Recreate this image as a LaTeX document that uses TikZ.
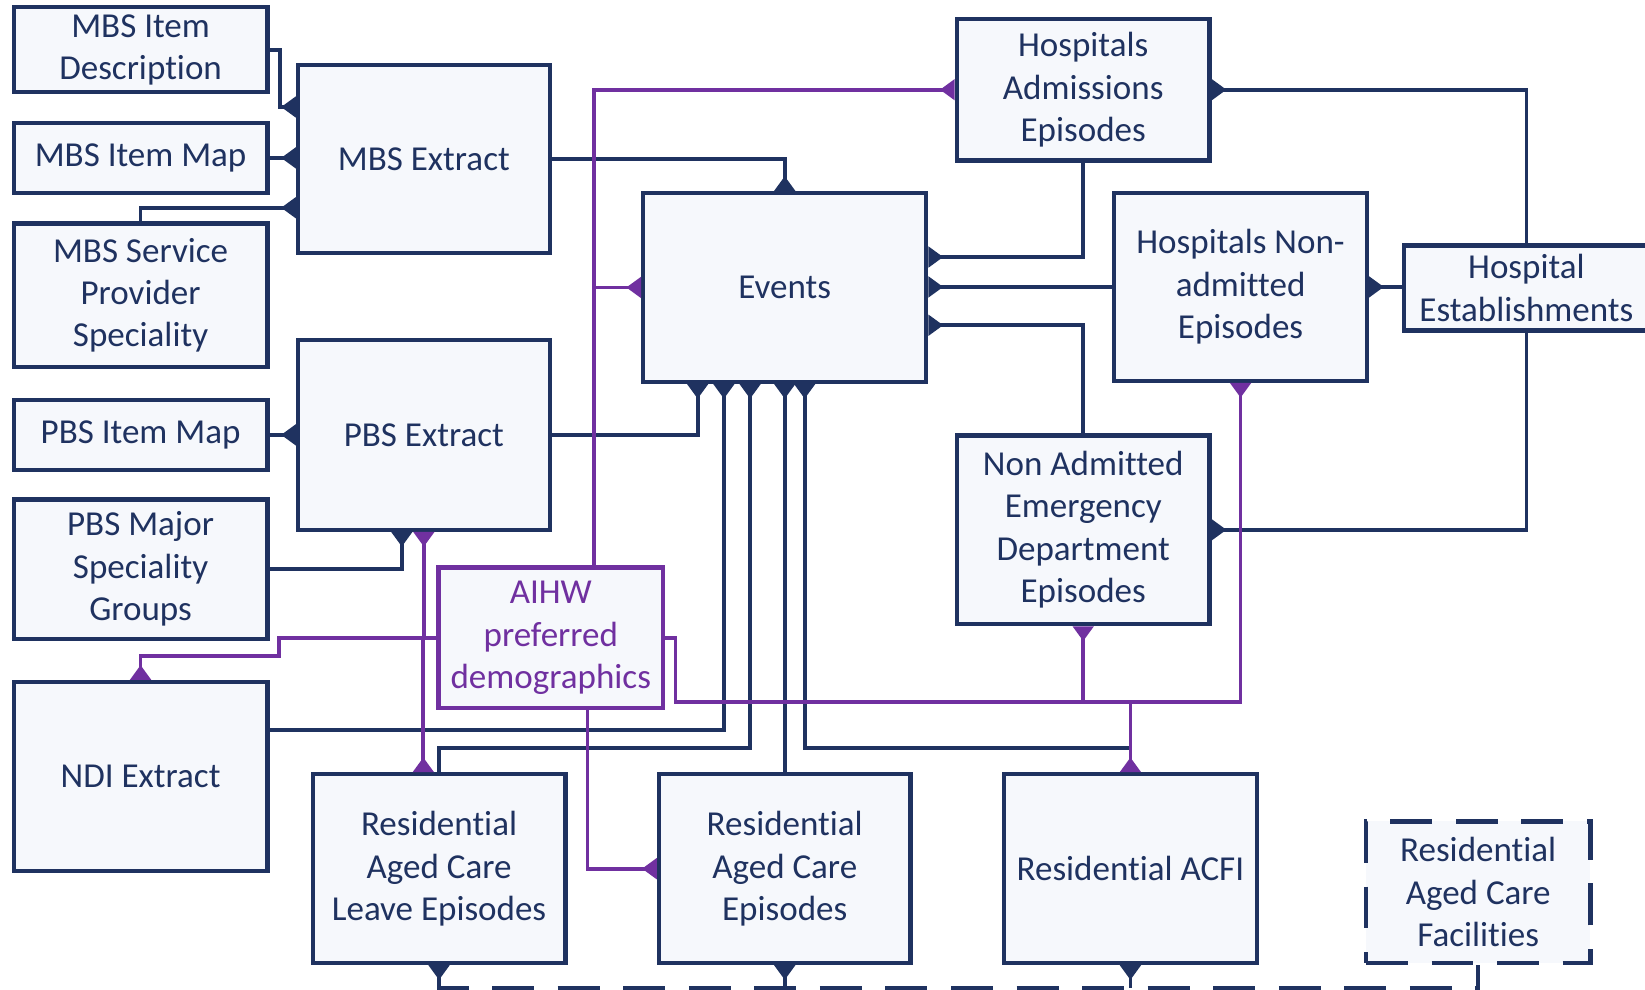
\documentclass[tikz,border=0pt]{standalone}
\usepackage{fontspec}
\setmainfont{Carlito}[Ligatures=NoCommon]
\usetikzlibrary{arrows.meta,calc}
\definecolor{navy}{RGB}{31,50,96}
\definecolor{aihwpurple}{RGB}{112,48,160}
\definecolor{boxfill}{RGB}{246,248,252}
\tikzset{
  crow/.tip={Triangle[reversed,width=11pt,length=8pt]},
  ent/.style={draw=navy,line width=2.3pt,fill=boxfill,text=navy,align=center,
    inner sep=0pt,font=\fontsize{19}{23}\selectfont},
  link/.style={draw=navy,line width=2pt},
  plink/.style={draw=aihwpurple,line width=2pt},
  longdash/.style={dash pattern=on 0.8cm off 0.45cm},
}

\begin{document}
\begin{tikzpicture}[x=0.02cm,y=-0.02cm]
  \path[fill=white,use as bounding box] (0,0) rectangle (1568,943);

  %% left column
  \node[ent,minimum width=4.84cm,minimum height=1.62cm] (desc) at (134,47.5) {MBS Item\\Description};
  \node[ent,minimum width=4.84cm,minimum height=1.34cm] (map) at (134,150.5) {MBS Item Map};
  \node[ent,minimum width=4.84cm,minimum height=2.74cm] (serv) at (134,281.5) {MBS Service\\Provider\\Speciality};
  \node[ent,minimum width=4.84cm,minimum height=1.34cm] (pmap) at (134,414.5) {PBS Item Map};
  \node[ent,minimum width=4.84cm,minimum height=2.66cm] (pmaj) at (134,542.5) {PBS Major\\Speciality\\Groups};
  \node[ent,minimum width=4.84cm,minimum height=3.6cm] (ndi) at (134,740) {NDI Extract};

  %% extracts
  \node[ent,minimum width=4.8cm,minimum height=3.58cm] (mbs) at (404,151.5) {MBS Extract};
  \node[ent,minimum width=4.8cm,minimum height=3.62cm] (pbs) at (404,414.5) {PBS Extract};
  \node[ent,draw=aihwpurple,text=aihwpurple,minimum width=4.28cm,minimum height=2.68cm] (aihw) at (525,608) {AIHW\\preferred\\demographics};

  %% events and hospitals
  \node[ent,minimum width=5.4cm,minimum height=3.6cm] (events) at (748,274) {Events};
  \node[ent,minimum width=4.82cm,minimum height=2.7cm] (hadm) at (1032.5,85.5) {Hospitals\\Admissions\\Episodes};
  \node[ent,minimum width=4.82cm,minimum height=3.58cm] (hnon) at (1182.5,273.5) {Hospitals Non-\\admitted\\Episodes};
  \node[ent,minimum width=4.68cm,minimum height=1.62cm] (hest) at (1455,274.5) {Hospital\\Establishments};
  \node[ent,minimum width=4.82cm,minimum height=3.6cm] (ned) at (1032.5,505) {Non Admitted\\Emergency\\Department\\Episodes};

  %% residential
  \node[ent,minimum width=4.82cm,minimum height=3.6cm] (rleave) at (418.5,828) {Residential\\Aged Care\\Leave Episodes};
  \node[ent,minimum width=4.8cm,minimum height=3.6cm] (repi) at (748,828) {Residential\\Aged Care\\Episodes};
  \node[ent,minimum width=4.82cm,minimum height=3.6cm] (racfi) at (1077.5,828) {Residential ACFI};
  \node[ent,longdash,minimum width=4.28cm,minimum height=2.7cm] (racf) at (1409,850.5) {Residential\\Aged Care\\Facilities};

  %% navy links
  \draw[link,-crow] (desc.east) -- ++(10,0) |- ($(mbs.west)+(0,-49.5)$);
  \draw[link,-crow] (map.east) -- (map.east -| mbs.west);
  \draw[link,-crow] (serv.north) |- ($(mbs.west)+(0,46.5)$);
  \draw[link,-crow] (mbs.east) -| (events.north);
  \draw[link,-crow] (pmap.east) -- (pmap.east -| pbs.west);
  \draw[link,-crow] (pmaj.east) -| ($(pbs.south)+(-21,0)$);
  \draw[link,-crow] (pbs.east) -| ($(events.south)+(-83,0)$);
  \draw[link,-crow] ($(ndi.east)+(0,-44)$) -| ($(events.south)+(-58,0)$);
  \draw[link,-crow] (rleave.north) -- ++(0,-23) -| ($(events.south)+(-33,0)$);
  \draw[link,-crow] (repi.north) -- (events.south);
  \draw[link,-crow] (racfi.north) -- ++(0,-23) -| ($(events.south)+(19,0)$);
  \draw[link,-crow] (hadm.south) |- ($(events.east)+(0,-29)$);
  \draw[link,-crow] (hnon.west) -- (hnon.west -| events.east);
  \draw[link,-crow] (ned.north) |- ($(events.east)+(0,36)$);
  \draw[link,crow-] (hadm.east) -| (hest.north);
  \draw[link,crow-] (hnon.east) -- (hnon.east -| hest.west);
  \draw[link,crow-] (ned.east) -| (hest.south);

  %% dashed links to facilities
  \draw[link,longdash,crow-] (rleave.south) -- ++(0,22) -| (racf.south);
  \draw[link,longdash,crow-] (repi.south) -- ++(0,22);
  \draw[link,longdash,crow-] (racfi.south) -- ++(0,22);

  %% purple links
  \draw[plink,-crow] ($(aihw.north)+(41,0)$) |- (hadm.west);
  \draw[plink,-crow] ($(aihw.north)+(41,0)$) |- (events.west);
  \draw[plink,-crow] (aihw.west) -- ++(-150,0) -- ++(0,17) -| (ndi.north);
  \draw[plink,-crow] (aihw.west) -| (pbs.south);
  \draw[plink,-crow] (aihw.west) -| ($(rleave.north)+(-15,0)$);
  \draw[plink,-crow] ($(aihw.south)+(35,0)$) |- (repi.west);
  \draw[plink,-crow] (aihw.east) -- ++(10,0) -- ++(0,61) -| (hnon.south);
  \draw[plink,-crow] (aihw.east) -- ++(10,0) -- ++(0,61) -| (ned.south);
  \draw[plink,-crow] (aihw.east) -- ++(10,0) -- ++(0,61) -| (racfi.north);
\end{tikzpicture}
\end{document}
